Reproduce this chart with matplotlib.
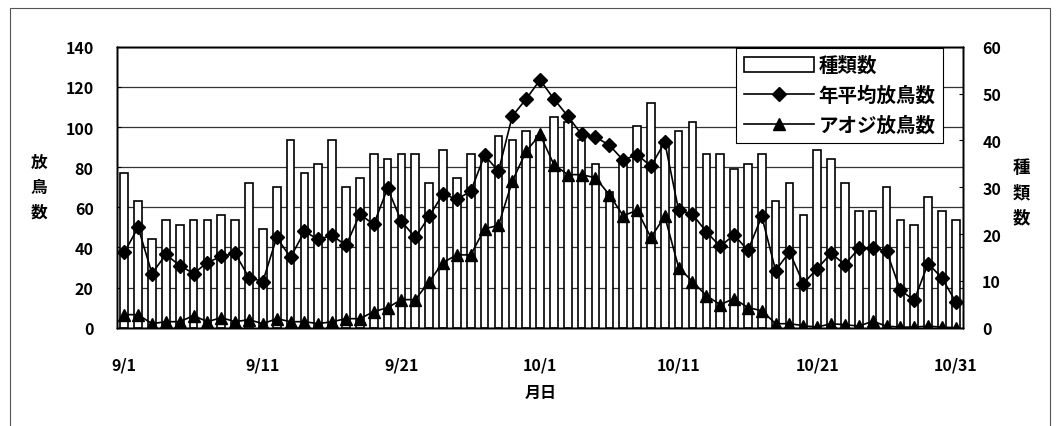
import numpy as np
import pandas as pd
import matplotlib
matplotlib.use("Agg")
import matplotlib.pyplot as plt
from matplotlib.patches import Rectangle
from matplotlib.lines import Line2D

plt.rcParams['font.family'] = ['Noto Sans CJK JP', 'DejaVu Sans']

# 9/1 - 10/31
days = pd.date_range('2000-09-01', '2000-10-31')
day_labels = [f"{d.month}/{d.day}" for d in days]

# species count (right axis)
species = [33, 27, 19, 23, 22, 23, 23, 24, 23, 31,
           21, 30, 40, 33, 35, 40, 30, 32, 37, 36,
           37, 37, 31, 38, 32, 37, 37, 41, 40, 42,
           41, 45, 44, 40, 35, 29, 36, 43, 48, 40,
           42, 44, 37, 37, 34, 35, 37, 27, 31, 24,
           38, 36, 31, 25, 25, 30, 23, 22, 28, 25, 23]

# yearly average birds released (left axis)
avg_birds = [37.5, 50, 27, 36.5, 31, 27, 32.5, 35.5, 37, 25,
             23, 45, 35, 48, 44, 46, 41, 56.5, 51.5, 69.5,
             53, 45, 55.5, 66.7, 64, 68, 86, 78, 105.5, 114,
             123.5, 114, 105.5, 96.3, 95, 91, 83.5, 86.3, 80.5, 92.5,
             58.5, 56.5, 47.8, 40.5, 46.3, 38.5, 55.5, 28.5, 37.8, 22,
             29.5, 37, 31.5, 39.5, 39.8, 38.2, 18.7, 13.7, 32, 24.8, 12.8]

# aoji (black-faced bunting) released (left axis)
aoji = [6.5, 6.5, 2, 3, 3, 6, 3, 5, 3, 4,
        2, 4.5, 3, 3, 2, 3, 4.5, 4.5, 8, 10,
        14, 14, 23, 32.5, 36.3, 36.3, 49.3, 51, 73, 88,
        96.3, 81.3, 76.3, 76.3, 74.7, 66.3, 55.8, 58.5, 45, 55.5,
        30, 23, 16, 11.5, 14.5, 10, 8.5, 2, 2, 1,
        0.3, 2, 1.5, 0.8, 3.2, 0.8, 0.3, 0.3, 0.8, 0.3, 0]

left_ticks = [0, 20, 40, 60, 80, 100, 120, 140]
right_ticks = [0, 10, 20, 30, 40, 50, 60]

x = np.arange(len(days))

fig = plt.figure(figsize=(10.59, 4.27), dpi=100)
ax = fig.add_axes([0.1108, 0.2302, 0.7983, 0.6578])

# grid layer (left scale)
ax.set_ylim(0, 140)
ax.set_xlim(-0.5, len(days) - 0.5)
ax.set_yticks(left_ticks)
ax.yaxis.grid(True, color='#333333', linewidth=0.9)
ax.set_axisbelow(True)
ax.set_xticks(x[::10])
ax.set_xticklabels(day_labels[::10])
ax.tick_params(axis='x', length=0, pad=21, labelsize=11.5)
ax.tick_params(axis='y', length=3, direction='in', pad=17, labelsize=11.5)
for lab in ax.get_xticklabels() + ax.get_yticklabels():
    lab.set_fontweight('bold')

# bars (right scale)
axb = ax.twinx()
axb.set_ylim(0, 60)
axb.set_yticks(right_ticks)
axb.tick_params(axis='y', length=3, direction='in', pad=14, labelsize=11.5)
for lab in axb.get_yticklabels():
    lab.set_fontweight('bold')
axb.bar(x, species, width=0.55, color='white', edgecolor='black', linewidth=1.2)

# lines (left scale)
axl = ax.twinx()
axl.set_ylim(0, 140)
axl.set_yticks([])
axl.plot(x, avg_birds, color='black', linewidth=1.2, marker='D', markersize=7)
axl.plot(x, aoji, color='black', linewidth=1.2, marker='^', markersize=8)

for a in (ax, axb, axl):
    for s in a.spines.values():
        s.set_linewidth(1.0)
        s.set_color('black')

handles = [Rectangle((0, 0), 1, 1, facecolor='white', edgecolor='black', linewidth=1.2),
           Line2D([], [], color='black', linewidth=1.2, marker='D', markersize=7.5),
           Line2D([], [], color='black', linewidth=1.2, marker='^', markersize=8.5)]
leg = axl.legend(handles, ['種類数', '年平均放鳥数', 'アオジ放鳥数'],
                 loc='upper right', bbox_to_anchor=(0.977, 0.996), borderaxespad=0,
                 fancybox=False, framealpha=1, edgecolor='black',
                 handlelength=3.6, handleheight=0.8, handletextpad=0.25,
                 labelspacing=0.55, borderpad=0.4,
                 prop={'size': 14, 'weight': 'bold'})
leg.get_frame().set_linewidth(0.8)

fig.text(39 / 1059, 1 - 188 / 427, '放\n鳥\n数', ha='center', va='center',
         fontsize=12, fontweight='bold', linespacing=1.5)
fig.text(1021 / 1059, 1 - 193 / 427, '種\n類\n数', ha='center', va='center',
         fontsize=12.5, fontweight='bold', linespacing=1.5)
fig.text(541 / 1059, 1 - 393 / 427, '月日', ha='center', va='center',
         fontsize=11.5, fontweight='bold')

# outer frame
fig.add_artist(Rectangle((10 / 1059, -0.05), 1040 / 1059, 1.03, transform=fig.transFigure,
                         fill=False, edgecolor='#555555', linewidth=0.8))

fig.savefig('out.png', dpi=100)
